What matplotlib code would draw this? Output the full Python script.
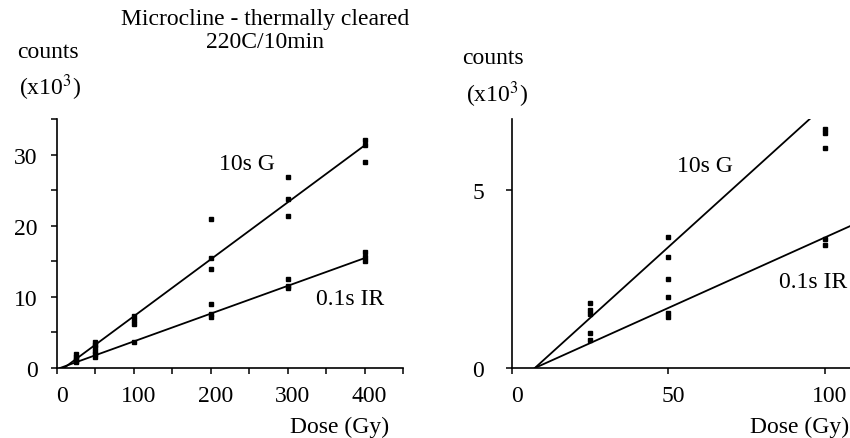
import matplotlib
matplotlib.use('Agg')
import numpy as np
import matplotlib.pyplot as plt
import matplotlib.transforms as mtransforms


plt.rcParams['font.family'] = ['Liberation Serif', 'DejaVu Serif']
plt.rcParams['mathtext.fontset'] = 'stix'

# left panel: dose (Gy) vs counts (x10^3)
left_g_dose = [25, 25, 25, 50, 50, 50, 100, 100, 100, 200, 200, 200,
               300, 300, 300, 400, 400, 400]
left_g_counts = [2.0, 1.6, 1.3, 3.7, 3.3, 2.9, 7.3, 6.8, 6.2, 21.0, 15.4, 13.9,
                 26.9, 23.8, 21.3, 32.0, 31.3, 29.0]
left_ir_dose = [25, 25, 50, 50, 50, 100, 200, 200, 200, 300, 300, 300,
                400, 400, 400]
left_ir_counts = [1.0, 0.8, 2.4, 2.0, 1.5, 3.7, 9.0, 7.6, 7.2, 12.5, 11.5, 11.3,
                  16.3, 15.6, 15.1]

# right panel: low-dose detail
right_g_dose = [25, 25, 25, 50, 50, 50, 100, 100, 100]
right_g_counts = [1.82, 1.62, 1.53, 3.68, 3.12, 2.51, 6.72, 6.62, 6.19]
right_ir_dose = [25, 25, 50, 50, 50, 100, 100]
right_ir_counts = [0.98, 0.80, 2.00, 1.55, 1.44, 3.63, 3.46]

# fitted lines: (slope per Gy, x-intercept in Gy)
left_g_fit = (0.080, 9)
left_ir_fit = (0.039, 4)
right_g_fit = (0.0797, 7.3)
right_ir_fit = (0.0396, 7.3)

W, H = 850, 439
fs = 17
fig = plt.figure(figsize=(W / 100, H / 100), dpi=100)


def px(x, y):
    return x / W, 1 - y / H


def style_axes(ax, ypad):
    for s in ['top', 'right']:
        ax.spines[s].set_visible(False)
    for s in ['left', 'bottom']:
        ax.spines[s].set_linewidth(1.2)
    ax.tick_params(direction='out', length=4, width=1.1, labelsize=fs)
    ax.tick_params(which='minor', direction='out', length=4, width=1.1)
    ax.tick_params(axis='y', pad=ypad)
    ax.tick_params(axis='x', pad=8)
    # tick labels in the original sit a little right of their ticks
    shift = mtransforms.ScaledTranslation(5 / 100, 0, fig.dpi_scale_trans)
    for lab in ax.get_xticklabels():
        lab.set_transform(lab.get_transform() + shift)


def fit_line(ax, fit, x_end):
    slope, x0 = fit
    xs = np.array([x0, x_end])
    ax.plot(xs, slope * (xs - x0), color='black', lw=1.3)


# ---- left panel
ax1 = fig.add_axes([57 / W, 1 - 369 / H, 346 / W, 249 / H])
ax1.plot(left_g_dose, left_g_counts, 's', color='black', ms=3)
ax1.plot(left_ir_dose, left_ir_counts, 's', color='black', ms=3)
fit_line(ax1, left_g_fit, 400)
fit_line(ax1, left_ir_fit, 400)
ax1.set_xlim(0, 450)
ax1.set_ylim(0, 35)
ax1.set_xticks([0, 100, 200, 300, 400])
ax1.set_xticks(np.arange(0, 451, 50), minor=True)
ax1.set_yticks([0, 10, 20, 30])
ax1.set_yticks(np.arange(0, 36, 5), minor=True)
style_axes(ax1, 10)

# ---- right panel
ax2 = fig.add_axes([512 / W, 1 - 369 / H, (W - 512) / W, 249 / H])
ax2.plot(right_g_dose, right_g_counts, 's', color='black', ms=3)
ax2.plot(right_ir_dose, right_ir_counts, 's', color='black', ms=3)
fit_line(ax2, right_g_fit, 115)
fit_line(ax2, right_ir_fit, 115)
ax2.set_xlim(0, 108)
ax2.set_ylim(0, 7)
ax2.set_xticks([0, 50, 100])
ax2.set_yticks([0, 5])
style_axes(ax2, 16)

# ---- texts
fig.text(*px(265, 20), 'Microcline - thermally cleared', ha='center', va='center', fontsize=fs)
fig.text(*px(265, 42), '220C/10min', ha='center', va='center', fontsize=fs)

fig.text(*px(48, 52), 'counts', ha='center', va='center', fontsize=fs)
fig.text(*px(50, 88), '(x10$^{3}$)', ha='center', va='center', fontsize=fs)
fig.text(*px(493, 58), 'counts', ha='center', va='center', fontsize=fs)
fig.text(*px(497, 95), '(x10$^{3}$)', ha='center', va='center', fontsize=fs)

fig.text(*px(247, 165), '10s G', ha='center', va='center', fontsize=fs)
fig.text(*px(350, 300), '0.1s IR', ha='center', va='center', fontsize=fs)
fig.text(*px(705, 167), '10s G', ha='center', va='center', fontsize=fs)
fig.text(*px(813, 282), '0.1s IR', ha='center', va='center', fontsize=fs)

fig.text(*px(340, 427), 'Dose (Gy)', ha='center', va='center', fontsize=fs)
fig.text(*px(800, 427), 'Dose (Gy)', ha='center', va='center', fontsize=fs)

fig.savefig('out.png', dpi=100)
